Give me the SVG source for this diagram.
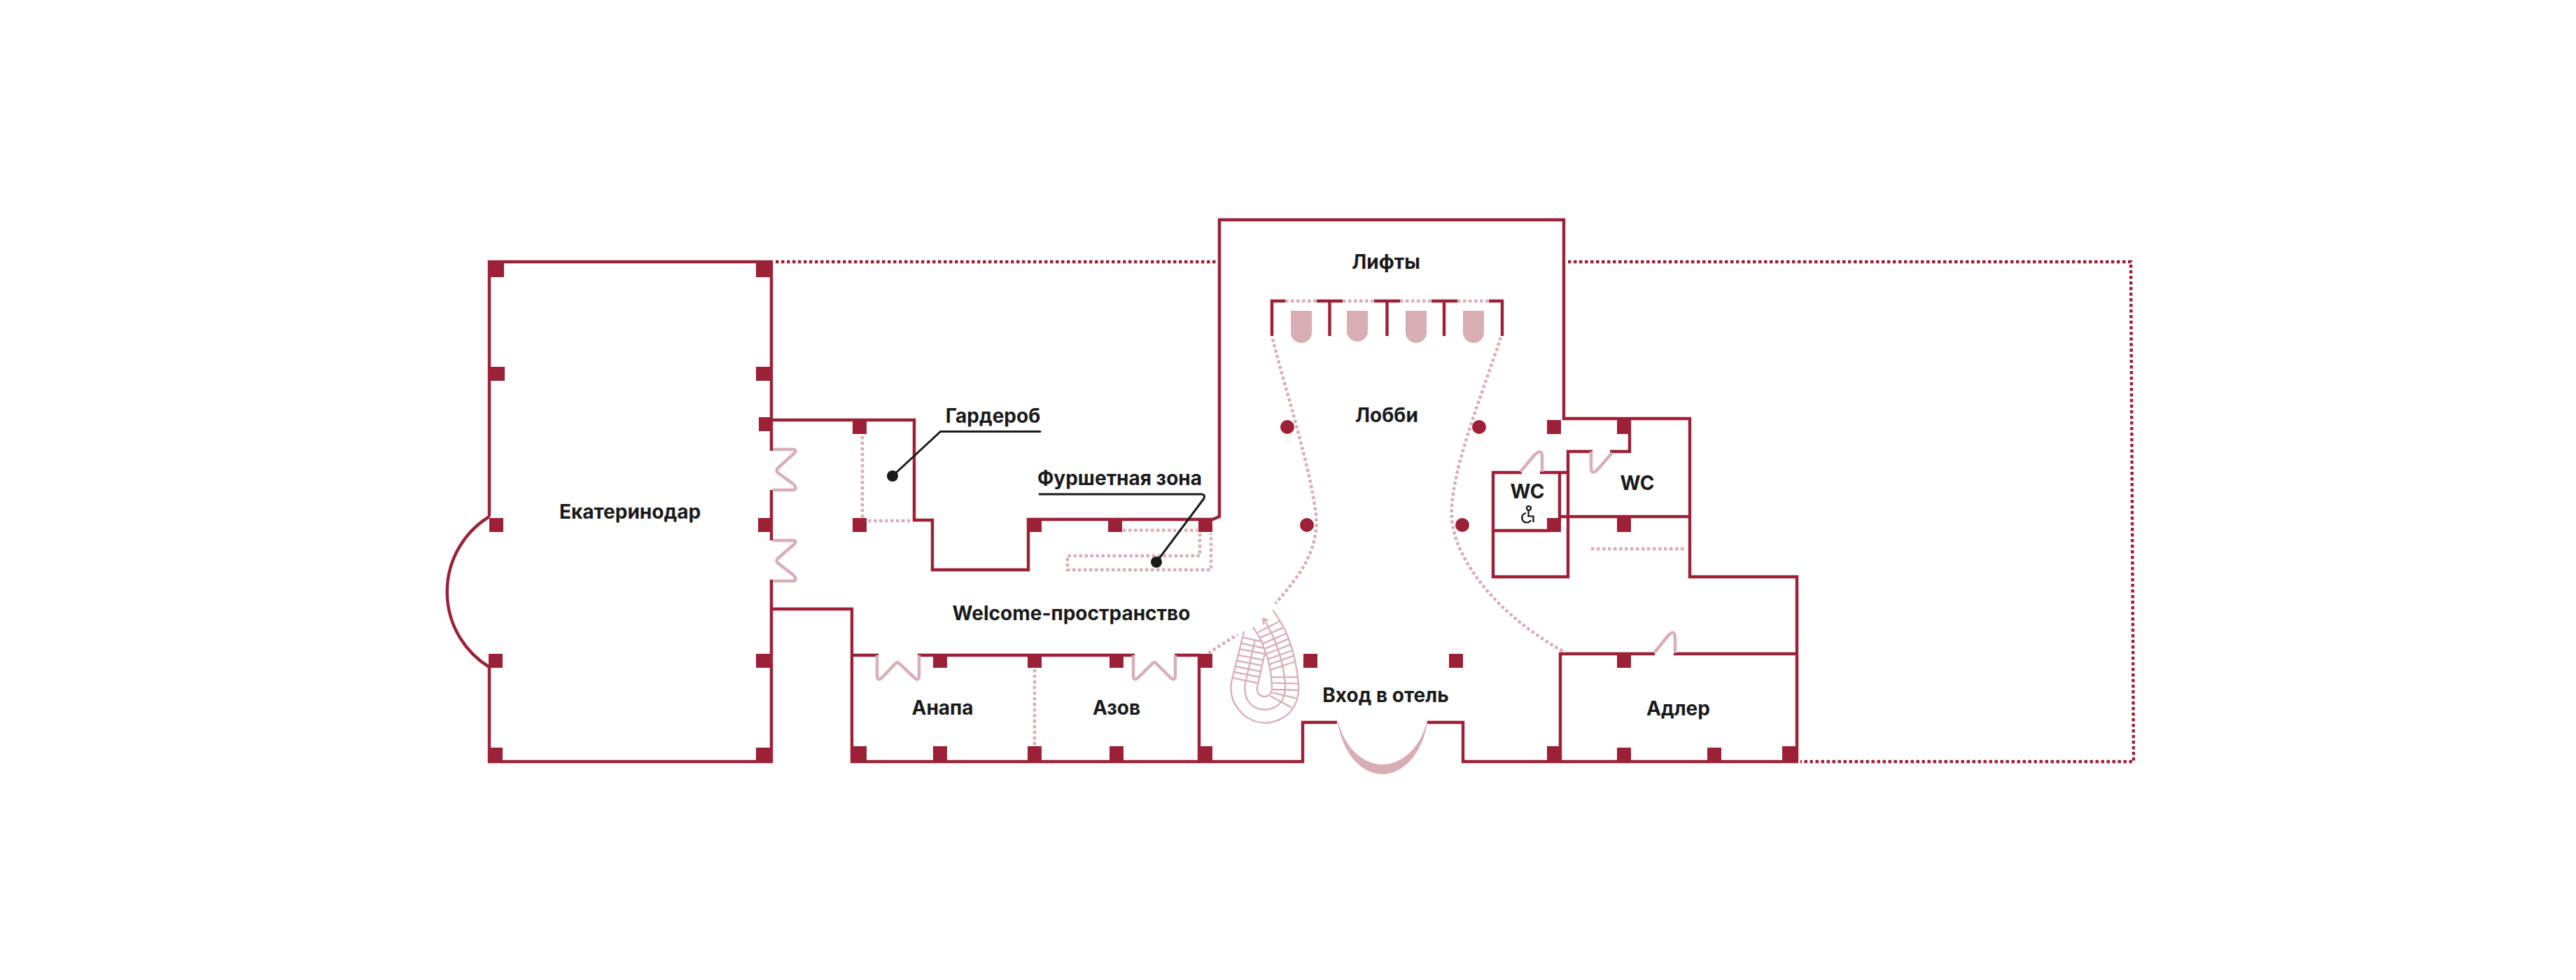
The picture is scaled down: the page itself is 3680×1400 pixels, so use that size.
<svg xmlns="http://www.w3.org/2000/svg" width="3680" height="1400" viewBox="0 0 3680 1400">
<style>
.w{fill:none;stroke:#9c2036;stroke-width:4.400;stroke-miterlimit:4}
.c{fill:#9c2036}
.d{fill:none;stroke:#d9afb6;stroke-width:4.500;stroke-linejoin:round}
.s{fill:none;stroke:#d9afb6;stroke-width:4.500;stroke-dasharray:4.500 3.500}
.o{fill:none;stroke:#9c2036;stroke-width:4.400;stroke-dasharray:4.500 3.500}
.st{fill:none;stroke:#d9afb6;stroke-width:7}
.u{fill:#d8aeb4}
.l{fill:none;stroke:#1a1a1a;stroke-width:3;stroke-linejoin:round;stroke-linecap:round}
.t{font-family:"Inter","Liberation Sans",sans-serif;font-weight:700;font-size:28px;fill:#1a1a1a;text-anchor:middle}
</style>
<rect width="3680" height="1400" fill="#fff"/>
<g id="walls">
<path class="w" d="M699 738V374H1102V644M1102 700V772M1102 828V1088H699V953"/>
<path class="w" d="M699 738A126 126 0 0 0 699 953"/>
<path class="w" d="M1102 600H1306V743H1332V814H1469V742H1732L1742 738V314H2234V598H2414V824H2567V1088H2090V1032H2039"/>
<path class="w" d="M1910 1032H1861V1088H1217V870H1102"/>
<path class="w" d="M1217 936H1255M1311 936H1621M1678 936H1713V1088"/>
<path class="w" d="M2364 934H2229V1088M2391 934H2567"/>
<path class="w" d="M2174 675H2133V824H2240V645H2275M2300 645H2328V598"/>
<path class="w" d="M2200 675H2240M2228 675V745M2133 758H2215M2228 738H2414"/>
</g>
<g id="outer-dotted">
<path class="o" d="M1108 374H1740"/>
<path class="o" d="M2240 374H3044L3048 1088H2572"/>
</g>
<g id="columns">
<rect class="c" x="697" y="372" width="23" height="24"/><rect class="c" x="1080" y="372" width="24" height="24"/>
<rect class="c" x="699" y="524" width="22" height="20"/><rect class="c" x="1080" y="524" width="22" height="20"/>
<rect class="c" x="1084" y="596" width="20" height="20"/>
<rect class="c" x="699" y="740" width="20" height="20"/><rect class="c" x="1083" y="740" width="19" height="20"/>
<rect class="c" x="698" y="934" width="20" height="20"/><rect class="c" x="1080" y="934" width="22" height="20"/>
<rect class="c" x="697" y="1068" width="21" height="22"/><rect class="c" x="1080" y="1068" width="24" height="22"/>
<rect class="c" x="1218" y="599" width="20" height="21"/><rect class="c" x="1218" y="740" width="20" height="20"/>
<rect class="c" x="1467" y="740" width="21" height="20"/><rect class="c" x="1583" y="740" width="20" height="20"/><rect class="c" x="1712" y="740" width="20" height="20"/>
<rect class="c" x="1333" y="936" width="20" height="18"/><rect class="c" x="1468" y="936" width="20" height="18"/><rect class="c" x="1585" y="936" width="20" height="18"/><rect class="c" x="1712" y="934" width="20" height="20"/>
<rect class="c" x="1215" y="1066" width="23" height="24"/><rect class="c" x="1333" y="1066" width="20" height="24"/><rect class="c" x="1468" y="1066" width="20" height="24"/><rect class="c" x="1585" y="1066" width="20" height="24"/><rect class="c" x="1711" y="1066" width="21" height="24"/>
<rect class="c" x="1862" y="934" width="20" height="20"/><rect class="c" x="2070" y="934" width="20" height="20"/>
<rect class="c" x="2210" y="1066" width="21" height="24"/><rect class="c" x="2310" y="1068" width="20" height="22"/><rect class="c" x="2439" y="1068" width="20" height="22"/><rect class="c" x="2546" y="1066" width="23" height="24"/>
<rect class="c" x="2310" y="934" width="20" height="20"/>
<rect class="c" x="2210" y="600" width="20" height="20"/><rect class="c" x="2310" y="598" width="20" height="22"/>
<rect class="c" x="2210" y="740" width="20" height="20"/><rect class="c" x="2310" y="736" width="20" height="24"/>
<circle class="c" cx="1839" cy="610" r="10"/><circle class="c" cx="2113" cy="610" r="10"/><circle class="c" cx="1867" cy="750" r="10"/><circle class="c" cx="2089" cy="750" r="10"/>
</g>
<g id="doors">
<path class="d" d="M1104 642H1132Q1140 642 1134 648L1112 668Q1107 672 1112 676L1134 692Q1140 700 1132 700H1104"/>
<path class="d" d="M1104 772H1132Q1140 772 1134 778L1112 797Q1107 801 1112 805L1134 822Q1140 830 1132 830H1104"/>
<path class="d" d="M1253 936V965Q1253 974 1260 968L1279 948Q1282 945 1285 948L1306 968Q1313 974 1313 965V936"/>
<path class="d" d="M1619 936V965Q1619 974 1626 968L1646 948Q1649 945 1652 948L1672 968Q1679 974 1679 965V936"/>
<path class="d" d="M2172 674L2192 650Q2203 640 2203 652V674"/>
<path class="d" d="M2273 645V668Q2273 680 2283 670L2303 647"/>
<path class="d" d="M2363 933L2383 908Q2393 898 2393 912V933"/>
<path class="u" d="M1910 1024C1915 1075 1945 1106 1975 1106C2005 1106 2035 1075 2040 1024C2032 1065 2005 1092 1975 1092C1945 1092 1918 1065 1910 1024Z"/>
</g>
<g id="dotted">
<path class="s" d="M1232 623V740M1240 744H1300"/>
<path class="s" d="M1604 757.500H1711M1714 762V794H1525V814H1730V762"/>
<path class="s" d="M1478 956V1065"/>
<path class="s" d="M1818 484C1840 570 1870 660 1880 735C1885 790 1850 830 1822 862"/>
<path class="s" d="M2144 482C2115 570 2070 680 2074 740C2078 800 2140 880 2236 932"/>
<path class="s" d="M1726 933L1768 906.500"/>
<path class="s" d="M2273 784H2408"/>
<path class="s" d="M1836 430H1881M1918 430H1963M2000 430H2045M2082 430H2127"/>
</g>
<g id="lifts">
<path class="w" d="M1817 480V430H1836M1881 430H1918M1963 430H2000M2045 430H2082M2127 430H2146V480M1899.500 430V480M1981.500 430V480M2063 430V480"/>
<path class="u" d="M1844 444H1874V475A15 15 0 0 1 1844 475Z"/>
<path class="u" d="M1924 444H1954V473A15 15 0 0 1 1924 473Z"/>
<path class="u" d="M2008 444H2038V475A15 15 0 0 1 2008 475Z"/>
<path class="u" d="M2090 444H2120V475A15 15 0 0 1 2090 475Z"/>
</g>
<g id="stairs" transform="translate(1720 860) scale(.3333)">
<path class="st" d="M172 125L118 340C108 400 130 450 175 488C205 510 235 518 260 518C300 518 345 500 372 468C400 435 408 390 405 350C400 290 385 215 360 150C345 110 320 70 295 35"/>
<path class="st" d="M218 165L178 345C165 395 190 440 225 455C260 468 300 460 325 435C350 405 350 370 346 330C340 270 325 225 305 170C290 130 272 100 255 72M252 70L255 96M252 70L276 80"/>
<path class="st" d="M210 108C240 150 255 180 262 215L228 365C225 390 240 405 258 405C280 405 292 390 291 365C290 320 282 260 262 210"/>
<path class="st" d="M165 152L250 170M160 177L258 198M155 202L258 222M148 228L252 248M142 252L247 272M136 276L243 298M130 300L238 322M123 325L232 348"/>
<path class="st" d="M232 130L325 82M242 152L340 110M252 178L353 135M262 200L362 158M268 222L372 182M273 245L380 207M278 268L385 230M282 292L392 255M288 322L400 322M294 347L402 350M294 375L405 378M292 388L395 412M283 402L375 452"/>
</g>
<g id="leaders">
<path class="l" d="M1275 680L1343.500 616.500H1486"/>
<circle cx="1275" cy="680" r="8" fill="#1a1a1a"/>
<path class="l" d="M1485 706H1716Q1722 706 1720 712L1652 803"/>
<circle cx="1652" cy="803" r="8" fill="#1a1a1a"/>
</g>
<g id="labels">
<g id="ekaterinodar"><text class="t" x="900" y="741">Екатеринодар</text></g>
<g id="garderob"><text class="t" x="1418.500" y="604">Гардероб</text></g>
<g id="furshet"><text class="t" x="1599.500" y="693">Фуршетная зона</text></g>
<g id="welcome"><text class="t" x="1530.500" y="886">Welcome-пространство</text></g>
<g id="anapa"><text class="t" x="1346.500" y="1021">Анапа</text></g>
<g id="azov"><text class="t" x="1595" y="1021">Азов</text></g>
<g id="lifty"><text class="t" x="1980" y="384">Лифты</text></g>
<g id="lobby"><text class="t" x="1981" y="603">Лобби</text></g>
<g id="wc1"><text class="t" x="2182" y="712">WC</text>
<g fill="none" stroke="#111" stroke-width="2.200"><circle cx="2184" cy="726" r="3"/><path d="M2183.500 730V737.500H2190.500V746"/><path d="M2180 733A6.800 6.800 0 1 0 2187 743"/></g></g>
<g id="wc2"><text class="t" x="2339" y="700">WC</text></g>
<g id="adler"><text class="t" x="2397.500" y="1022">Адлер</text></g>
<g id="vhod"><text class="t" x="1979.500" y="1003">Вход в отель</text></g>
</g>
</svg>
